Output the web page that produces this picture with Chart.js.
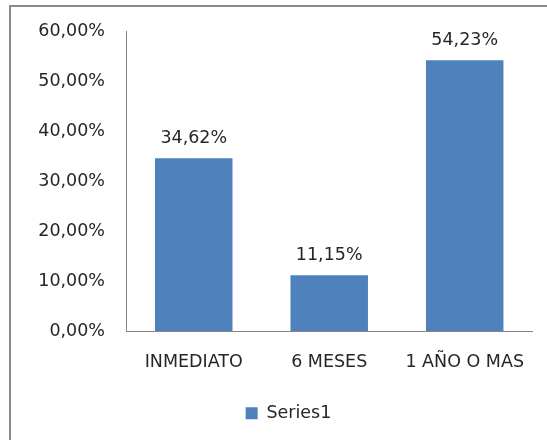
<!DOCTYPE html>
<html>
<head>
<meta charset="utf-8">
<script src="https://cdn.jsdelivr.net/npm/chart.js@4/dist/chart.umd.min.js"></script>
<style>
  html, body { margin: 0; padding: 0; background: #fff; }
  #wrap { position: relative; width: 547px; height: 440px; overflow: hidden; }
  #frame { position: absolute; left: 9px; top: 5px; width: 600px; height: 500px;
           border-left: 2px solid #8a8a8a; border-top: 2px solid #8a8a8a; }
  canvas { position: absolute; left: 0; top: 0; }
</style>
</head>
<body>
<div id="wrap">
  <div id="frame"></div>
  <canvas id="c" width="547" height="440"></canvas>
</div>
<script>
const categories = ["INMEDIATO", "6 MESES", "1 AÑO O MAS"];
const seriesName = "Series1";
const values = [34.62, 11.15, 54.23];
const yTicks = [0, 10, 20, 30, 40, 50, 60];

const FONT = "'DejaVu Sans', Verdana, sans-serif";
const fmt = v => v.toFixed(2).replace('.', ',') + '%';

const dataLabels = {
  id: 'dataLabels',
  afterDatasetsDraw(chart) {
    const ctx = chart.ctx;
    const meta = chart.getDatasetMeta(0);
    ctx.save();
    ctx.font = "17.5px " + FONT;
    ctx.fillStyle = '#262626';
    ctx.textAlign = 'center';
    ctx.textBaseline = 'middle';
    meta.data.forEach((bar, i) => {
      ctx.fillText(fmt(values[i]), bar.x, bar.y - 20);
    });
    ctx.restore();
  }
};

const legendShift = {
  id: 'legendShift',
  afterLayout(chart) {
    const lg = chart.legend;
    if (lg) { lg.left += 21; lg.right += 21; }
  }
};

new Chart(document.getElementById('c'), {
  type: 'bar',
  data: {
    labels: categories,
    datasets: [{
      label: seriesName,
      data: values,
      backgroundColor: '#4F81BD',
      borderWidth: 0,
      barPercentage: 0.572,
      categoryPercentage: 1
    }]
  },
  options: {
    responsive: false,
    animation: false,
    devicePixelRatio: 1,
    layout: { padding: { left: 0, right: 12, top: 29, bottom: 8 } },
    plugins: {
      tooltip: { enabled: false },
      legend: {
        position: 'bottom',
        labels: {
          font: { family: FONT, size: 17.5 },
          color: '#262626',
          boxWidth: 12,
          boxHeight: 12,
          padding: 10
        }
      }
    },
    scales: {
      x: {
        grid: { display: false, drawTicks: false },
        border: { display: true, color: '#868686', width: 1 },
        ticks: { font: { family: FONT, size: 17.5 }, color: '#262626', padding: 21, maxRotation: 0 },
        afterFit(s) { s.height = 63.5; }
      },
      y: {
        min: 0, max: 60,
        grid: { display: false, drawTicks: false },
        border: { display: true, color: '#868686', width: 1 },
        afterBuildTicks(s) { s.ticks = yTicks.map(v => ({ value: v })); },
        ticks: {
          font: { family: FONT, size: 17.5 }, color: '#262626', padding: 21,
          callback: v => fmt(v)
        },
        afterFit(s) { s.width = 126; }
      }
    }
  },
  plugins: [dataLabels, legendShift]
});
</script>
</body>
</html>
